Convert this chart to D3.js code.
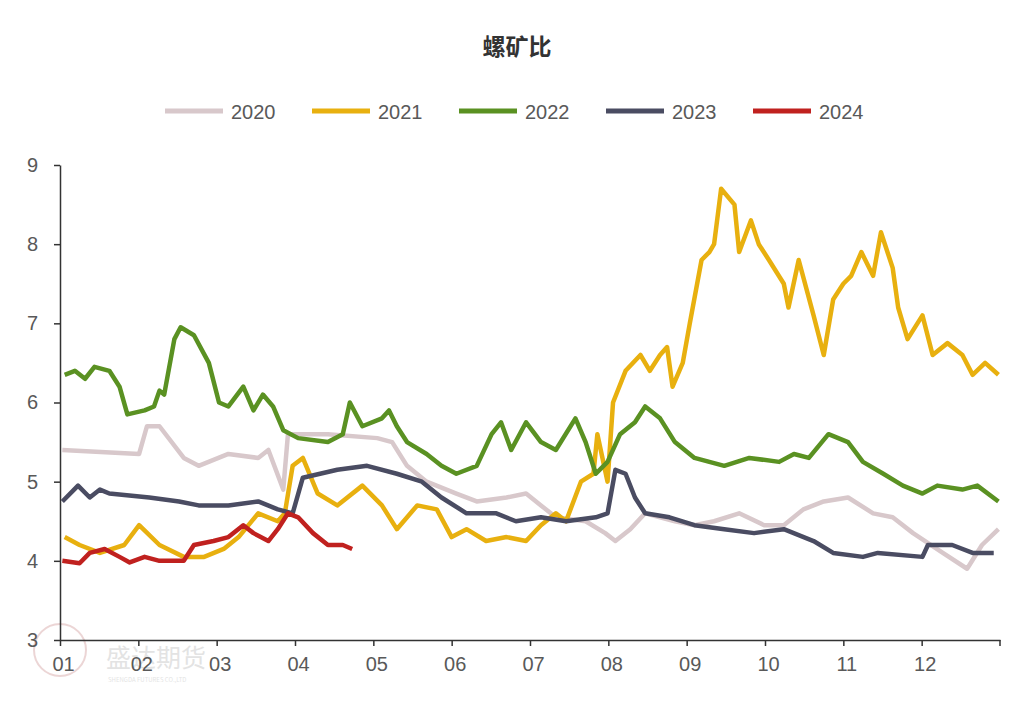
<!DOCTYPE html>
<html>
<head>
<meta charset="utf-8">
<script src="https://cdn.jsdelivr.net/npm/d3@7"></script>
<style>
  body { margin: 0; background: #fff; font-family: "Noto Sans CJK SC", "DejaVu Sans", sans-serif; }
</style>
</head>
<body>
<svg id="chart" width="1032" height="703"></svg>
<script>
"use strict";

// x values are positions in months from 1 Jan (0 = start of 01)
const months = ["01","02","03","04","05","06","07","08","09","10","11","12"];
const yTicks = [3,4,5,6,7,8,9];
const years = ["2020","2021","2022","2023","2024"];
const colors = ["#d8c8cb","#e8b00f","#5a9122","#4a4c62","#c0211f"];

const x2020 = [.03,1.01,1.11,1.27,1.58,1.77,2.15,2.53,2.66,2.85,2.91,3.42,4.05,4.24,4.43,4.68,5.06,5.32,5.70,5.95,6.14,6.33,6.71,6.96,7.09,7.28,7.47,7.85,8.10,8.35,8.67,8.99,9.24,9.49,9.75,10.06,10.38,10.63,10.89,11.27,11.58,11.77,11.98];
const v2020 = [5.4,5.35,5.7,5.7,5.3,5.2,5.35,5.3,5.4,4.9,5.6,5.6,5.55,5.5,5.2,5.0,4.85,4.75,4.8,4.85,4.7,4.55,4.5,4.35,4.25,4.4,4.6,4.5,4.45,4.5,4.6,4.45,4.45,4.65,4.75,4.8,4.6,4.55,4.35,4.1,3.9,4.2,4.4];

const x2021 = [.06,.25,.51,.82,1.01,1.27,1.58,1.84,2.09,2.28,2.53,2.78,2.87,2.97,3.10,3.29,3.54,3.86,4.11,4.30,4.56,4.81,5.0,5.19,5.44,5.70,5.95,6.14,6.33,6.46,6.65,6.81,6.86,6.99,7.06,7.22,7.41,7.53,7.66,7.75,7.82,7.95,8.04,8.19,8.29,8.35,8.44,8.61,8.67,8.82,8.92,9.05,9.24,9.30,9.43,9.62,9.75,9.87,10.0,10.10,10.23,10.38,10.48,10.63,10.70,10.82,11.01,11.14,11.33,11.52,11.65,11.81,11.98];
const v2021 = [4.3,4.2,4.1,4.2,4.45,4.2,4.05,4.05,4.15,4.3,4.6,4.5,4.6,5.2,5.3,4.85,4.7,4.95,4.7,4.4,4.7,4.65,4.3,4.4,4.25,4.3,4.25,4.45,4.6,4.5,5.0,5.1,5.6,5.0,6.0,6.4,6.6,6.4,6.6,6.7,6.2,6.5,7.0,7.8,7.9,8.0,8.7,8.5,7.9,8.3,8.0,7.8,7.5,7.2,7.8,7.1,6.6,7.3,7.5,7.6,7.9,7.6,8.15,7.7,7.2,6.8,7.1,6.6,6.75,6.6,6.35,6.5,6.35];

const x2022 = [.06,.19,.32,.44,.63,.76,.86,1.08,1.20,1.27,1.33,1.46,1.54,1.71,1.90,2.03,2.15,2.34,2.47,2.59,2.72,2.85,3.04,3.42,3.61,3.70,3.86,4.11,4.20,4.30,4.43,4.68,4.87,5.06,5.32,5.51,5.63,5.76,5.95,6.14,6.33,6.58,6.71,6.84,6.99,7.15,7.34,7.47,7.66,7.85,8.10,8.48,8.80,9.18,9.37,9.56,9.81,10.06,10.25,10.51,10.76,11.01,11.20,11.52,11.71,11.98];
const v2022 = [6.35,6.4,6.3,6.45,6.4,6.2,5.85,5.9,5.95,6.15,6.1,6.8,6.95,6.85,6.5,6.0,5.95,6.2,5.9,6.1,5.95,5.65,5.55,5.5,5.6,6.0,5.7,5.8,5.9,5.7,5.5,5.35,5.2,5.1,5.2,5.6,5.75,5.4,5.75,5.5,5.4,5.8,5.5,5.1,5.25,5.6,5.75,5.95,5.8,5.5,5.3,5.2,5.3,5.25,5.35,5.3,5.6,5.5,5.25,5.1,4.95,4.85,4.95,4.9,4.95,4.75];

const x2023 = [.03,.23,.38,.51,.63,1.14,1.52,1.77,2.15,2.53,2.78,2.97,3.10,3.54,3.92,4.30,4.62,4.87,5.19,5.57,5.82,6.14,6.46,6.84,6.99,7.09,7.22,7.34,7.47,7.78,8.10,8.48,8.86,9.24,9.62,9.87,10.25,10.44,11.01,11.08,11.39,11.65,11.92];
const v2023 = [4.75,4.95,4.8,4.9,4.85,4.8,4.75,4.7,4.7,4.75,4.65,4.6,5.05,5.15,5.2,5.1,5.0,4.8,4.6,4.6,4.5,4.55,4.5,4.55,4.6,5.15,5.1,4.8,4.6,4.55,4.45,4.4,4.35,4.4,4.25,4.1,4.05,4.1,4.05,4.2,4.2,4.1,4.1];

const x2024 = [.03,.25,.38,.57,.76,.89,1.08,1.27,1.58,1.71,1.96,2.15,2.34,2.47,2.66,2.78,2.91,3.04,3.23,3.42,3.61,3.73];
const v2024 = [4.0,3.97,4.1,4.15,4.05,3.98,4.05,4.0,4.0,4.2,4.25,4.3,4.45,4.35,4.25,4.4,4.6,4.55,4.35,4.2,4.2,4.15];

const seriesX = [x2020,x2021,x2022,x2023,x2024];
const seriesV = [v2020,v2021,v2022,v2023,v2024];

const svg = d3.select("#chart");
const plotLeft = 60, plotRight = 1000, plotTop = 165, plotBottom = 640;
const x = d3.scaleLinear().domain([0, 12]).range([plotLeft, plotRight]);
const y = d3.scaleLinear().domain([3, 9]).range([plotBottom, plotTop]);
const axisColor = "#595959";

// watermark
const wm = svg.append("g").attr("opacity", 0.35);
wm.append("circle").attr("cx", 60).attr("cy", 650).attr("r", 26)
  .attr("fill", "none").attr("stroke", "#c98a8a").attr("stroke-width", 2);
wm.append("text").attr("x", 106).attr("y", 667).text("盛达期货")
  .attr("font-size", 25).attr("fill", "#b0b0b0");
wm.append("text").attr("x", 108).attr("y", 682).text("SHENGDA FUTURES CO.,LTD")
  .attr("font-size", 6).attr("fill", "#b0b0b0");

// title
svg.append("text").attr("x", 517).attr("y", 55).attr("text-anchor", "middle")
  .attr("font-size", 23).attr("font-weight", "bold").attr("fill", "#333").text("螺矿比");

// legend
const leg = svg.append("g").selectAll("g").data(years).join("g")
  .attr("transform", (d, i) => `translate(${165 + i * 147},111)`);
leg.append("line").attr("x1", 0).attr("x2", 58)
  .attr("stroke", (d, i) => colors[i]).attr("stroke-width", 5);
leg.append("text").attr("x", 66).attr("y", 8).attr("font-size", 20)
  .attr("font-family", "Liberation Sans, sans-serif").attr("fill", axisColor).text(d => d);

// y axis
const yAxis = svg.append("g").attr("transform", `translate(${plotLeft},0)`)
  .call(d3.axisLeft(y).tickValues(yTicks).tickFormat(d3.format("d")).tickSize(6).tickSizeOuter(0));
yAxis.selectAll("text").attr("font-size", 20).attr("fill", axisColor)
  .attr("font-family", "Liberation Sans, sans-serif").attr("x", -22);
yAxis.selectAll("line, path").attr("stroke", "#333").attr("stroke-width", 1.5);

// x axis
const xAxis = svg.append("g").attr("transform", `translate(0,${plotBottom})`)
  .call(d3.axisBottom(x).tickValues(d3.range(0, 12)).tickFormat((d, i) => months[i])
    .tickSize(6).tickSizeOuter(0));
xAxis.selectAll("text").attr("font-size", 20).attr("fill", axisColor)
  .attr("font-family", "Liberation Sans, sans-serif").attr("dy", "1.1em")
  .attr("x", 3);
xAxis.selectAll("line, path").attr("stroke", "#333").attr("stroke-width", 1.5);
xAxis.append("line").attr("x1", plotRight).attr("x2", plotRight).attr("y1", 0).attr("y2", 6)
  .attr("stroke", "#333").attr("stroke-width", 1.5);

// lines
const line = d3.line().x(d => x(d[0])).y(d => y(d[1]));
seriesX.forEach((xs, i) => {
  const pts = xs.map((v, j) => [v, seriesV[i][j]]);
  svg.append("path").datum(pts).attr("d", line).attr("fill", "none")
    .attr("stroke", colors[i]).attr("stroke-width", 4.5).attr("stroke-linejoin", "round");
});
</script>
</body>
</html>
